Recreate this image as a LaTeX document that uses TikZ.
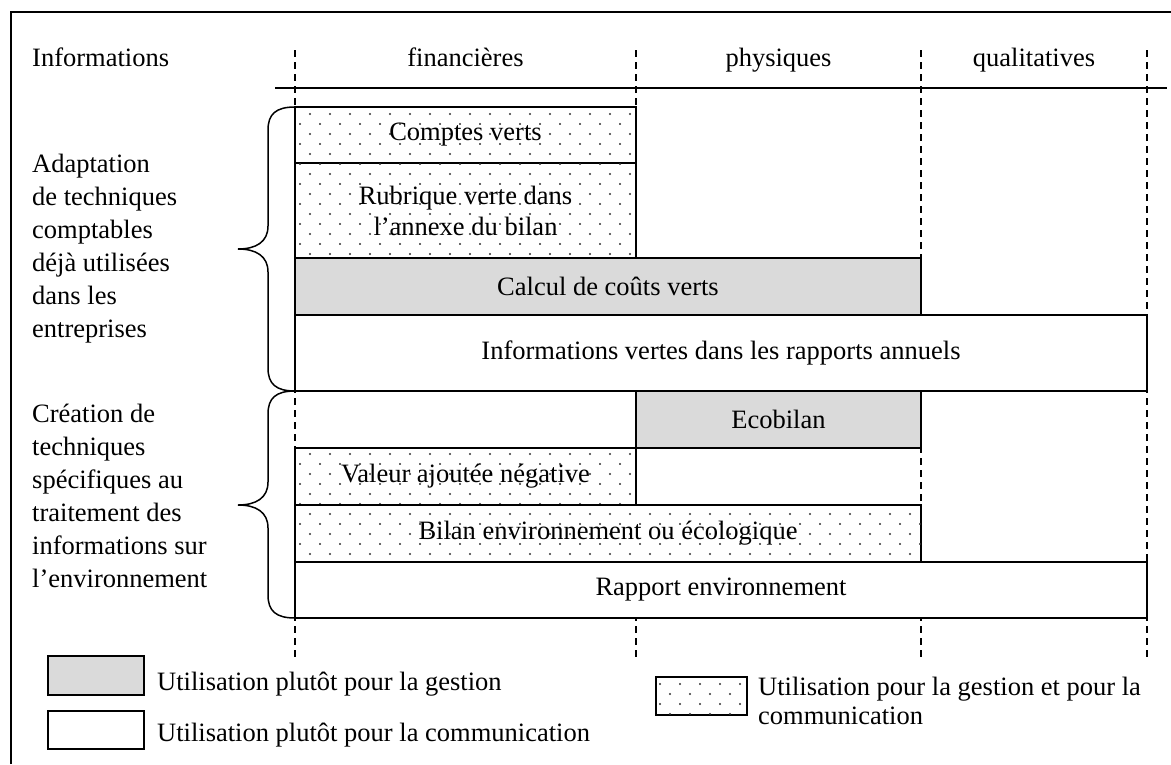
\documentclass[tikz,border=0pt]{standalone}
\usepackage{fontspec}
\setmainfont{Liberation Serif}
\usetikzlibrary{patterns}
\definecolor{boxgray}{RGB}{218,218,218}
\pgfdeclarepatternformonly{stagdots}{\pgfqpoint{-1pt}{-1pt}}{\pgfqpoint{21pt}{21pt}}{\pgfqpoint{20pt}{20pt}}{%
  \pgfpathcircle{\pgfqpoint{0pt}{0pt}}{1.1pt}%
  \pgfpathcircle{\pgfqpoint{10pt}{10pt}}{1.1pt}%
  \pgfusepath{fill}}
\tikzset{
  basebox/.style={draw=black, line width=1.5pt, inner sep=0pt, align=center},
  graybox/.style={basebox, fill=boxgray},
  whitebox/.style={basebox, fill=white},
  dotbox/.style={basebox, fill=white, postaction={pattern=stagdots, pattern color=black!80}},
  coldash/.style={line width=1.2pt, dash pattern=on 7pt off 5pt},
  bracepath/.style={line width=1.5pt},
  lbl/.style={inner sep=0pt, align=left},
}
\begin{document}
\begin{tikzpicture}[x=1pt, y=-1pt, font=\fontsize{26.5}{33}\selectfont]
\useasboundingbox (0,0) rectangle (1171,764);
% frame
\draw[line width=1.5pt] (11,764) -- (11,12) -- (1171,12);
% column separators
\foreach \xx in {295,636,921,1147} \draw[coldash] (\xx,50) -- (\xx,659);
% header
\node[lbl, anchor=base west] (hinfo) at (32,66) {Informations};
\node[lbl, anchor=base] (hfin) at (465.5,66) {financières};
\node[lbl, anchor=base] (hphy) at (778.5,66) {physiques};
\node[lbl, anchor=base] (hqua) at (1034,66) {qualitatives};
\draw[line width=1.5pt] (275,88) -- (1167,88);
% boxes
\node[dotbox, minimum width=341pt, minimum height=56pt] (cv) at (465.5,135) {Comptes verts};
\node[dotbox, minimum width=341pt, minimum height=95pt, font=\fontsize{26.5}{31}\selectfont] (rub) at (465.5,210.5) {Rubrique verte dans\\l’annexe du bilan};
\node[graybox, minimum width=626pt, minimum height=57pt] (calc) at (608,286.5) {Calcul de coûts verts};
\node[whitebox, minimum width=852pt, minimum height=76pt] (iv) at (721,353) {Informations vertes dans les rapports annuels};
\node[graybox, minimum width=285pt, minimum height=57pt] (eco) at (778.5,419.5) {Ecobilan};
\node[dotbox, minimum width=341pt, minimum height=57pt] (vaj) at (465.5,476.5) {Valeur ajoutée négative};
\node[dotbox, minimum width=626pt, minimum height=57pt] (bil) at (608,533.5) {Bilan environnement ou écologique};
\node[whitebox, minimum width=852pt, minimum height=56pt] (rap) at (721,590) {Rapport environnement};
% braces
\draw[bracepath] (295,107) .. controls (276,107) and (268,114) .. (268,130) -- (268,226)
  .. controls (268,242) and (256,249) .. (238,249)
  .. controls (256,249) and (268,256) .. (268,272) -- (268,368)
  .. controls (268,384) and (276,391) .. (295,391);
\draw[bracepath] (295,391) .. controls (276,391) and (268,398) .. (268,414) -- (268,482)
  .. controls (268,498) and (256,505) .. (238,505)
  .. controls (256,505) and (268,512) .. (268,528) -- (268,595)
  .. controls (268,611) and (276,618) .. (295,618);
% left labels
\node[lbl, anchor=west] (adapt) at (32,249) {Adaptation\\de techniques\\comptables\\déjà utilisées\\dans les\\entreprises};
\node[lbl, anchor=west] (creat) at (32,496) {Création de\\techniques\\spécifiques au\\traitement des\\informations sur\\l’environnement};
% legend
\node[graybox, minimum width=96pt, minimum height=39pt] (lg1) at (96,675.5) {};
\node[lbl, anchor=west] (lt1) at (157,684) {Utilisation plutôt pour la gestion};
\node[whitebox, minimum width=96pt, minimum height=38pt] (lg2) at (96,730) {};
\node[lbl, anchor=west] (lt2) at (157,735) {Utilisation plutôt pour la communication};
\node[dotbox, minimum width=91pt, minimum height=38pt] (lg3) at (701.5,696) {};
\node[lbl, anchor=west, font=\fontsize{26.5}{29}\selectfont] (lt3) at (758,701) {Utilisation pour la gestion et pour la\\communication};
\end{tikzpicture}
\end{document}
